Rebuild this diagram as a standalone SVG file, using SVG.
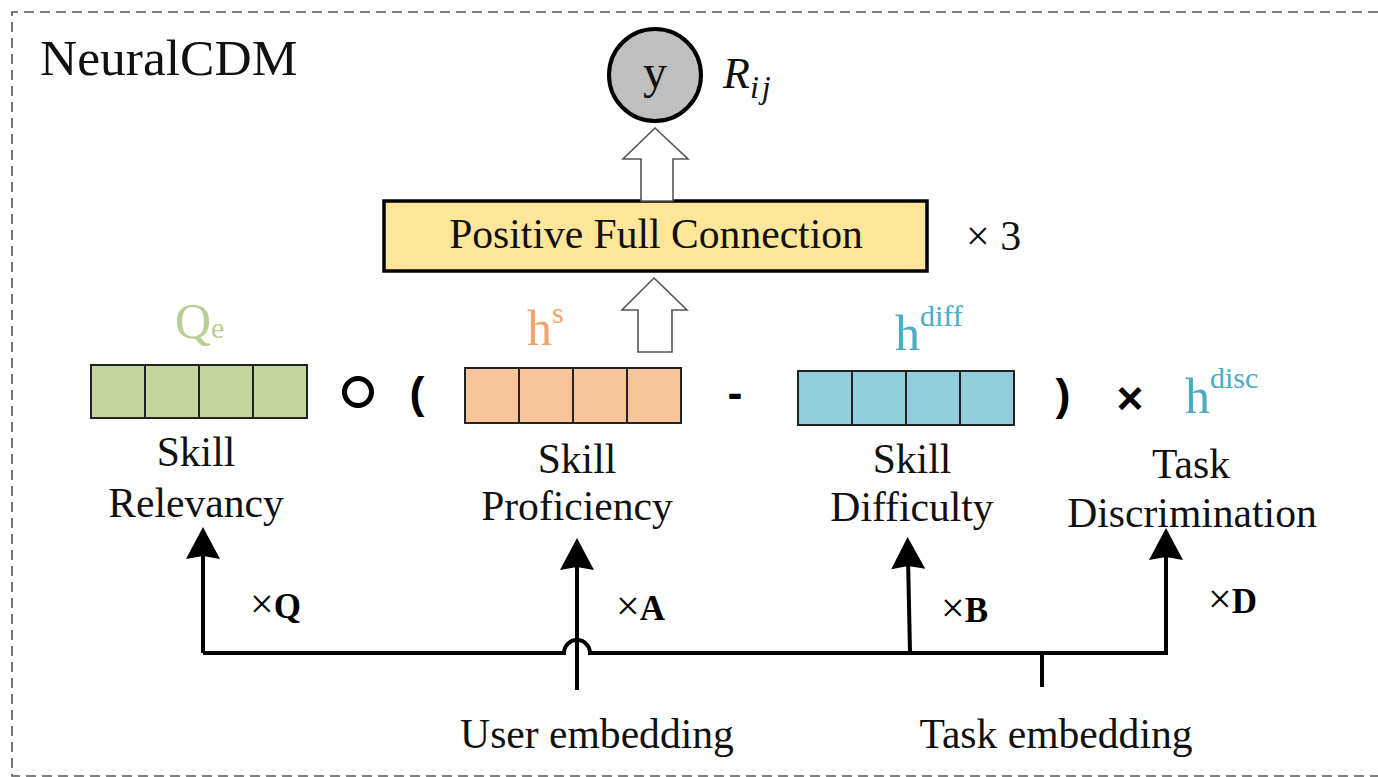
<svg xmlns="http://www.w3.org/2000/svg" width="1378" height="777" viewBox="0 0 1378 777">
<style>
.t{font-family:"Liberation Serif","Times New Roman",serif;fill:#111}
.lbl{font-size:41.6px;text-anchor:middle}
.op{font-family:"Liberation Sans",Arial,sans-serif;font-weight:bold;fill:#000;text-anchor:middle}
.cell{stroke:#222;stroke-width:2}
.conn{stroke:#000;stroke-width:4;fill:none}
.open{fill:#fff;stroke:#555;stroke-width:1.6}
.mul{font-family:"Liberation Serif","Times New Roman",serif;font-size:35px;fill:#000}
.border{fill:none;stroke:#555;stroke-width:1.6;stroke-dasharray:10 6}
</style>
<defs>
<marker id="ah" markerUnits="userSpaceOnUse" markerWidth="40" markerHeight="40" viewBox="-14 -20 40 40" refX="0" refY="0" orient="auto">
<path d="M20,0 L-12,-17 L-9,0 L-12,17 Z" fill="#000"/>
</marker>
</defs>
<rect width="1378" height="777" fill="#fff"/>
<path class="border" d="M1378,12 L12,12 L12,776 L1378,776"/>
<text class="t" x="40" y="75" font-size="51.5">NeuralCDM</text>

<g id="output">
<circle cx="655" cy="75" r="46" fill="#bfbfbf" stroke="#000" stroke-width="4"/>
<text class="t" x="655" y="88" font-size="48" text-anchor="middle">y</text>
<text class="t" x="723" y="88" font-size="44" font-style="italic">R<tspan font-size="32" dy="10" letter-spacing="3">ij</tspan></text>
</g>

<g id="pfc">
<rect x="384" y="201" width="543" height="70" fill="#ffe699" stroke="#000" stroke-width="3.5"/>
<text class="t lbl" x="656" y="248">Positive Full Connection</text>
<text class="t" x="966" y="250" font-size="42">× 3</text>
</g>

<g id="qe">
<text class="t" x="175" y="338" font-size="50" style="fill:#b7cf92">Q<tspan font-size="30">e</tspan></text>
<rect class="cell" x="91" y="365" width="54" height="53" fill="#c4d69c"/>
<rect class="cell" x="145" y="365" width="54" height="53" fill="#c4d69c"/>
<rect class="cell" x="199" y="365" width="54" height="53" fill="#c4d69c"/>
<rect class="cell" x="253" y="365" width="54" height="53" fill="#c4d69c"/>
<text class="t lbl" x="196" y="466">Skill</text>
<text class="t lbl" x="196" y="517">Relevancy</text>
</g>

<g id="hs">
<text class="t" x="527" y="345" font-size="50" style="fill:#f0a46c">h<tspan font-size="30" dy="-22">s</tspan></text>
<rect class="cell" x="465" y="368" width="54" height="55" fill="#f8c49a"/>
<rect class="cell" x="519" y="368" width="54" height="55" fill="#f8c49a"/>
<rect class="cell" x="573" y="368" width="54" height="55" fill="#f8c49a"/>
<rect class="cell" x="627" y="368" width="54" height="55" fill="#f8c49a"/>
<text class="t lbl" x="577" y="473">Skill</text>
<text class="t lbl" x="577" y="520">Proficiency</text>
</g>

<g id="hdiff">
<text class="t" x="895" y="350" font-size="50" style="fill:#4bacc6">h<tspan font-size="30" dy="-24">diff</tspan></text>
<rect class="cell" x="798" y="371" width="54" height="54" fill="#92cddc"/>
<rect class="cell" x="852" y="371" width="54" height="54" fill="#92cddc"/>
<rect class="cell" x="906" y="371" width="54" height="54" fill="#92cddc"/>
<rect class="cell" x="960" y="371" width="54" height="54" fill="#92cddc"/>
<text class="t lbl" x="912" y="473">Skill</text>
<text class="t lbl" x="912" y="521">Difficulty</text>
</g>

<g id="hdisc">
<text class="t" x="1185" y="413" font-size="50" style="fill:#4bacc6">h<tspan font-size="30" dy="-25">disc</tspan></text>
<text class="t lbl" x="1191" y="478">Task</text>
<text class="t lbl" x="1192" y="527">Discrimination</text>
</g>

<g id="operators">
<circle cx="358" cy="392" r="13.5" fill="none" stroke="#000" stroke-width="5"/>
<text class="op" x="417" y="408" font-size="45">(</text>
<text class="op" x="735" y="408" font-size="45">-</text>
<text class="op" x="1063" y="410" font-size="45">)</text>
<text class="op" x="1130" y="414" font-size="46">×</text>
</g>

<g id="user-embedding">
<text class="t lbl" x="597" y="748">User embedding</text>
</g>
<g id="task-embedding">
<text class="t lbl" x="1056" y="748">Task embedding</text>
</g>

<g id="connectors">
<path class="open" d="M655,128 L688,159 L673,159 L673,201 L641,201 L641,159 L623,159 Z"/>
<path class="open" d="M654,278 L687,310 L672,310 L672,352 L638,352 L638,310 L622,310 Z"/>
<path class="conn" d="M203,653 L564,653 A13,13 0 0 1 590,653 L1166,653"/>
<path class="conn" d="M203,653 L203,547" marker-end="url(#ah)"/>
<path class="conn" d="M577,690 L577,558" marker-end="url(#ah)"/>
<path class="conn" d="M910,653 L908,557" marker-end="url(#ah)"/>
<path class="conn" d="M1166,655 L1166,548" marker-end="url(#ah)"/>
<path class="conn" d="M1042,653 L1042,687"/>
<text class="mul" x="250" y="618"><tspan font-size="42">×</tspan><tspan font-weight="bold">Q</tspan></text>
<text class="mul" x="616" y="620"><tspan font-size="42">×</tspan><tspan font-weight="bold">A</tspan></text>
<text class="mul" x="941" y="622"><tspan font-size="42">×</tspan><tspan font-weight="bold">B</tspan></text>
<text class="mul" x="1208" y="613"><tspan font-size="42">×</tspan><tspan font-weight="bold">D</tspan></text>
</g>
</svg>
